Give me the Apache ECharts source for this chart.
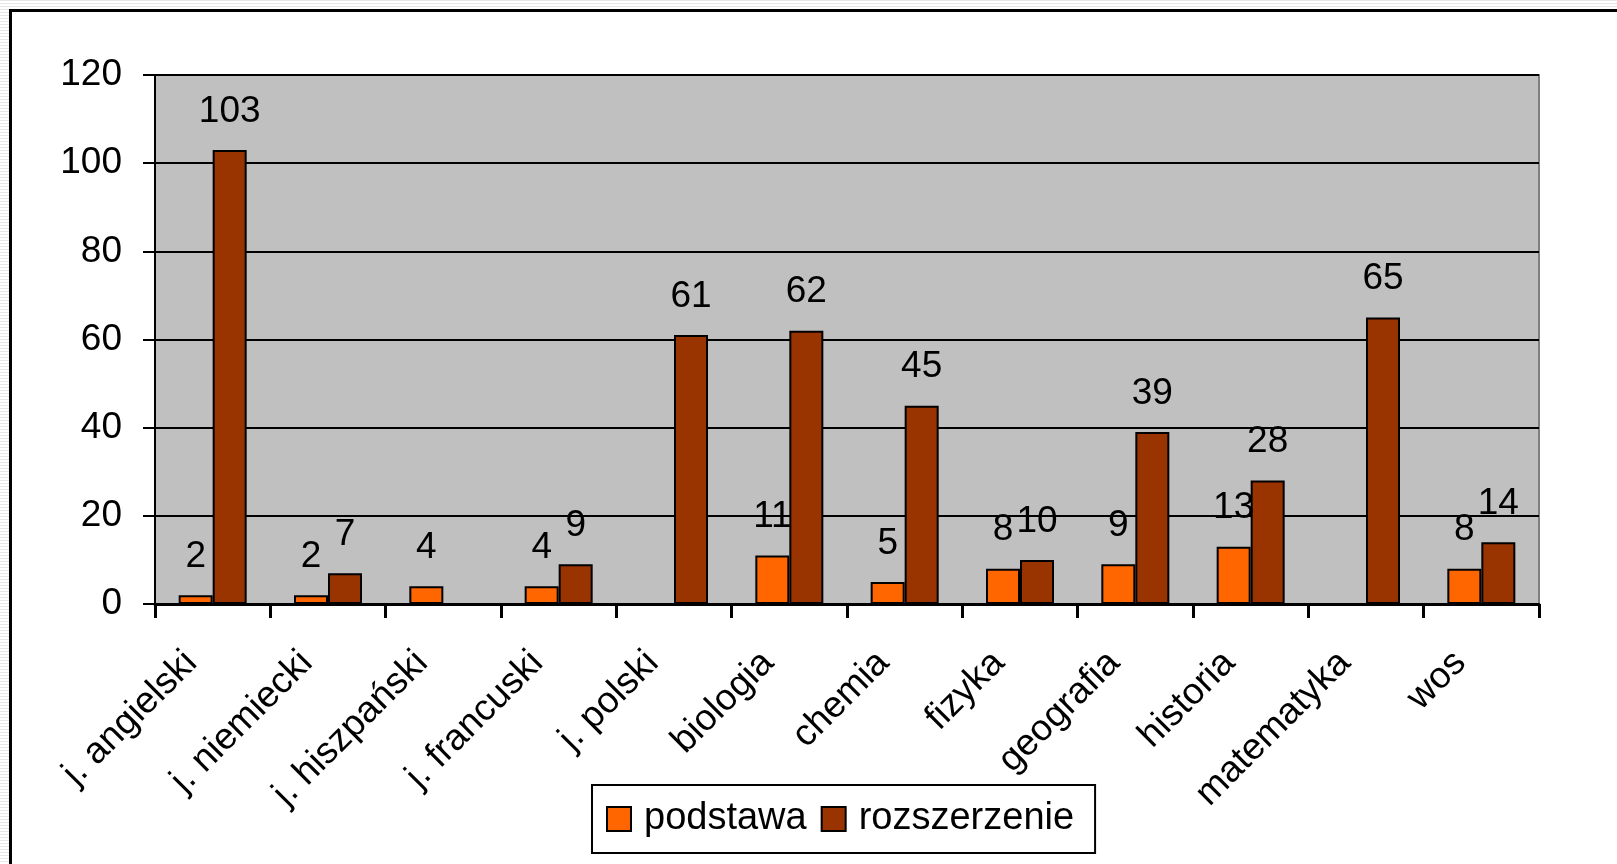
<!DOCTYPE html>
<html>
<head>
<meta charset="utf-8">
<script src="https://cdn.jsdelivr.net/npm/echarts@6/dist/echarts.min.js"></script>
<style>
  html, body { margin: 0; padding: 0; width: 1617px; height: 864px; overflow: hidden;
    background: repeating-linear-gradient(to bottom, #e6e6e6 0px, #e6e6e6 1px, #ffffff 1px, #ffffff 3px); }
  #frame { position: absolute; left: 9px; top: 9px; width: 1640px; height: 900px;
    background: #ffffff; border-left: 3px solid #000; border-top: 3px solid #000; }
  #chart { position: absolute; left: 0; top: 0; width: 1617px; height: 864px; }
</style>
</head>
<body>
<div id="frame"></div>
<div id="chart"></div>
<script>
const categories = ['j. angielski', 'j. niemiecki', 'j. hiszpański', 'j. francuski', 'j. polski',
  'biologia', 'chemia', 'fizyka', 'geografia', 'historia', 'matematyka', 'wos'];
const podstawa = [2, 2, 4, 4, null, 11, 5, 8, 9, 13, null, 8];
const rozszerzenie = [103, 7, null, 9, 61, 62, 45, 10, 39, 28, 65, 14];
const yTicks = { min: 0, max: 120, interval: 20 };

const FONT = 'Liberation Sans, Arial, sans-serif';
const chart = echarts.init(document.getElementById('chart'), null, { renderer: 'canvas' });

const labelCfg = {
  show: true, position: 'top', distance: 20,
  color: '#000', fontFamily: FONT, fontSize: 37
};

chart.setOption({
  animation: false,
  backgroundColor: 'transparent',
  grid: {
    left: 155, top: 75, width: 1384, height: 529,
    show: true, backgroundColor: '#C0C0C0', borderColor: '#808080', borderWidth: 2
  },
  legend: {
    left: 592, top: 785,
    backgroundColor: '#ffffff', borderColor: '#000', borderWidth: 2,
    padding: [15, 21, 15, 14],
    itemWidth: 24, itemHeight: 24, itemGap: 14,
    icon: 'rect',
    itemStyle: { borderColor: '#000', borderWidth: 2 },
    textStyle: { fontFamily: FONT, fontSize: 38, color: '#000', padding: [0, 0, 0, 8] },
    data: ['podstawa', 'rozszerzenie']
  },
  xAxis: {
    type: 'category',
    data: categories,
    boundaryGap: true,
    axisLine: { lineStyle: { color: '#000', width: 3 } },
    axisTick: { show: true, inside: false, length: 14, lineStyle: { color: '#000', width: 3 } },
    axisLabel: {
      interval: 0, rotate: 45, margin: 32,
      fontFamily: FONT, fontSize: 37, color: '#000',
      padding: [0, 30, 0, 0]
    },
    splitLine: { show: false }
  },
  yAxis: {
    type: 'value',
    min: yTicks.min, max: yTicks.max, interval: yTicks.interval,
    axisLine: { show: true, lineStyle: { color: '#000', width: 2 } },
    axisTick: { show: true, inside: false, length: 12, lineStyle: { color: '#000', width: 2 } },
    axisLabel: { margin: 33, fontFamily: FONT, fontSize: 37, color: '#000' },
    splitLine: { show: true, lineStyle: { color: '#000', width: 2 } }
  },
  series: [
    {
      name: 'podstawa', type: 'bar', data: podstawa,
      barWidth: 34, barGap: '0%',
      itemStyle: { color: '#FF6600', borderColor: '#000', borderWidth: 2 },
      label: labelCfg
    },
    {
      name: 'rozszerzenie', type: 'bar', data: rozszerzenie,
      barWidth: 34, barGap: '0%',
      itemStyle: { color: '#993300', borderColor: '#000', borderWidth: 2 },
      label: labelCfg
    }
  ]
});
</script>
</body>
</html>
